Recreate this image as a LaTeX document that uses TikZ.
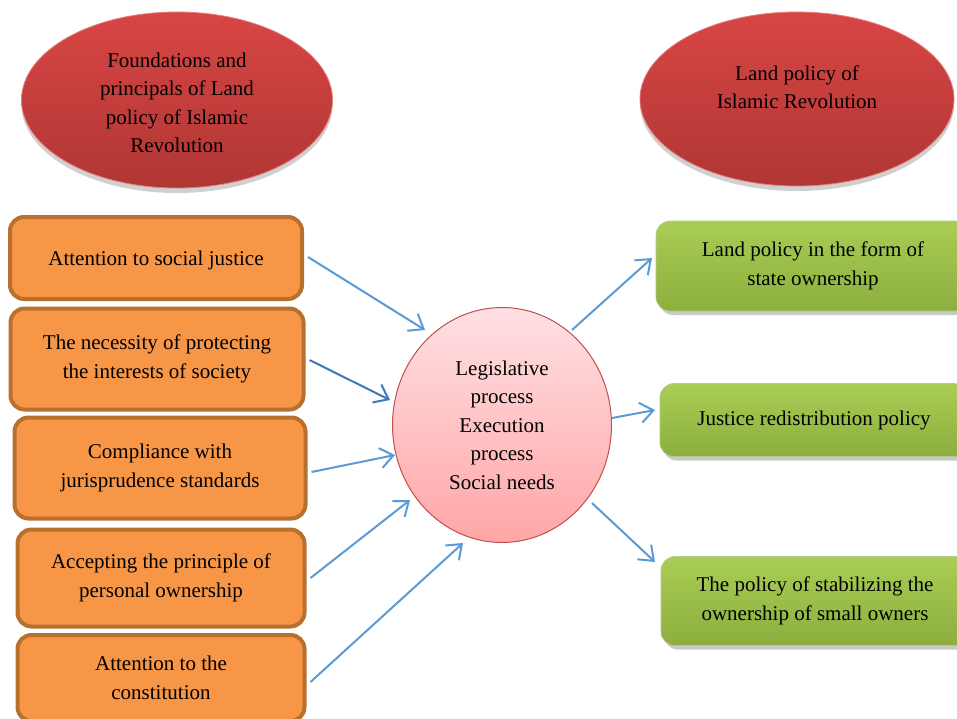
\documentclass[tikz,border=0pt]{standalone}
\usepackage{fontspec}
\setmainfont{Liberation Serif}
\usetikzlibrary{arrows.meta,shadows,shapes.geometric}
\definecolor{orfill}{HTML}{F79646}
\definecolor{ordraw}{HTML}{B8702F}
\definecolor{grtop}{HTML}{AACD55}
\definecolor{grbot}{HTML}{8CAE3E}
\definecolor{redtop}{HTML}{D84644}
\definecolor{redmid}{HTML}{CF4240}
\definecolor{redbot}{HTML}{B03634}
\definecolor{pktop}{HTML}{FFE0E3}
\definecolor{pkbot}{HTML}{FFA6A6}
\definecolor{pkdraw}{HTML}{C0504D}
\definecolor{arr}{HTML}{5B9BD5}
\definecolor{arrd}{HTML}{3F78B8}
\tikzset{
  txt/.style={font=\fontsize{21}{28.5}\selectfont, align=center, text=black},
  obox/.style={txt, draw=ordraw, fill=orfill, line width=4pt, rounded corners=14pt, inner sep=0pt},
  gbox/.style={txt, top color=grtop, bottom color=grbot, draw=grtop!80!black!60, line width=0.6pt, rounded corners=14pt, inner sep=0pt,
     drop shadow={shadow xshift=3pt, shadow yshift=-4pt, opacity=0.35, fill=black!60}},
  redell/.style={ellipse, top color=redtop, middle color=redmid, bottom color=redbot, draw=redtop!70!white, line width=0.8pt, inner sep=0pt,
     drop shadow={shadow xshift=0pt, shadow yshift=-5pt, opacity=0.3, fill=black!60}},
  pcirc/.style={txt, ellipse, top color=pktop, bottom color=pkbot, draw=pkdraw, line width=1pt, inner sep=0pt},
  conn/.style={draw=arr, line width=2pt, -{Straight Barb[length=13pt,width=20pt,line width=2pt]}},
}
\begin{document}
\begin{tikzpicture}[x=1pt,y=-1pt]
\useasboundingbox (0,0) rectangle (957,718);
\fill[white] (0,0) rectangle (957,718);

% ellipses
\node[redell, minimum width=311pt, minimum height=176pt] (e1) at (177,100) {};
\node[txt] (e1t) at (177,103) {Foundations and\\principals of Land\\policy of Islamic\\Revolution};
\node[redell, minimum width=314pt, minimum height=174pt] (e2) at (797,99) {};
\node[txt] (e2t) at (797,87) {Land policy of\\Islamic Revolution};

% orange boxes
\node[obox, minimum width=292pt, minimum height=82pt, text depth=-2pt] (o1) at (156,258) {Attention to social justice};
\node[obox, minimum width=293pt, minimum height=101pt] (o2) at (157,359) {The necessity of protecting\\the interests of society};
\node[obox, minimum width=291pt, minimum height=101pt] (o3) at (160,468) {Compliance with\\jurisprudence standards};
\node[obox, minimum width=287pt, minimum height=97pt] (o4) at (161,578) {Accepting the principle of\\personal ownership};
\node[obox, minimum width=287pt, minimum height=86pt] (o5) at (161,678) {Attention to the\\constitution};

% center
\node[pcirc, minimum width=219pt, minimum height=235pt] (c) at (502,425) {Legislative\\process\\Execution\\process\\Social needs};

% green boxes
\node[gbox, minimum width=314pt, minimum height=90pt] (g1) at (813,266) {Land policy in the form of\\state ownership};
\node[gbox, minimum width=308pt, minimum height=73pt] (g2) at (814,420) {Justice redistribution policy};
\node[gbox, minimum width=308pt, minimum height=89pt] (g3) at (815,601) {The policy of stabilizing the\\ownership of small owners};

% connector ends
\coordinate (a1) at (425,330);
\coordinate (a2) at (390,400);
\coordinate (a3) at (395,455);
\coordinate (a4) at (410,500);
\coordinate (a5) at (463,543);
\coordinate (b1) at (572,330);
\coordinate (b2) at (612,418);
\coordinate (b3) at (592,503);
\coordinate (t1) at (652,258);
\coordinate (t2) at (655,410);
\coordinate (t3) at (655,562);

\draw[conn] (o1.east |- 0,257) ++(4,0) -- (a1);
\draw[conn, draw=arrd] (o2.east |- 0,360) ++(4,0) -- (a2);
\draw[conn] (o3.east |- 0,472) ++(4,0) -- (a3);
\draw[conn] (o4.east |- 0,578) ++(4,0) -- (a4);
\draw[conn] (o5.east |- 0,682) ++(4,0) -- (a5);
\draw[conn] (b1) -- (t1);
\draw[conn] (b2) -- (t2);
\draw[conn] (b3) -- (t3);
\end{tikzpicture}
\end{document}
